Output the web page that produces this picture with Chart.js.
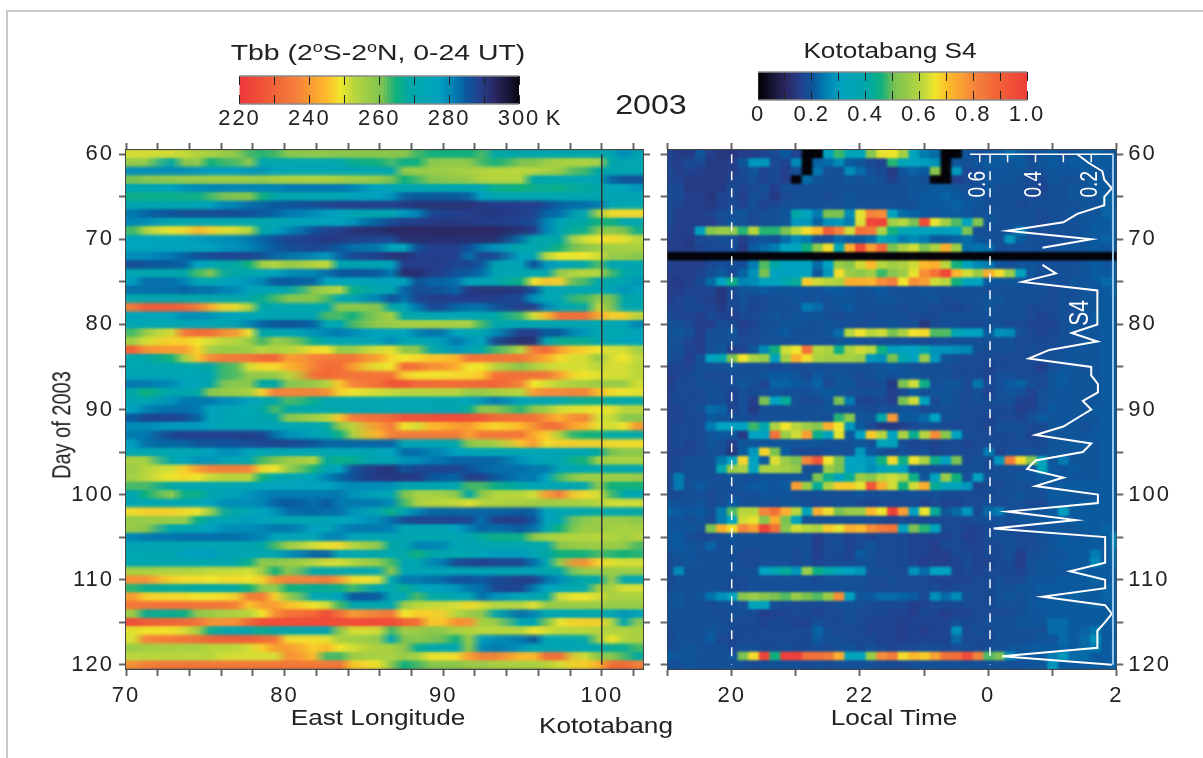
<!DOCTYPE html>
<html>
<head>
<meta charset="utf-8">
<script src="https://cdn.jsdelivr.net/npm/chart.js@4/dist/chart.umd.js"></script>
<style>
html, body { margin: 0; background: #fff; overflow: hidden; }
#page { position: relative; width: 1203px; height: 758px; }
#frame { position: absolute; left: 6px; top: 10px; right: 0; bottom: 0; border-left: 2px solid #c8c8c8; border-top: 2px solid #c8c8c8; }
canvas { position: absolute; }
.t { position: absolute; white-space: nowrap; color: #222; font: 22px "Liberation Sans", Arial, sans-serif; transform: translate(-50%, -50%) scaleX(1.19); }
.t span { font-size: 14px; vertical-align: 8px; }
</style>
</head>
<body>
<div id="page">
  <div id="frame"></div>
  <canvas id="barTbb" style="left:179px;top:30px"></canvas>
  <canvas id="barS4" style="left:692px;top:30px"></canvas>
  <canvas id="panelTbb" style="left:0;top:120px"></canvas>
  <canvas id="panelS4" style="left:655px;top:120px"></canvas>
  <div class="t" style="left:378px;top:52px;transform:translate(-50%,-50%) scaleX(1.29)">Tbb (2<span>o</span>S-2<span>o</span>N, 0-24 UT)</div>
  <div class="t" style="left:890px;top:51px">Kototabang S4</div>
  <div class="t" style="left:651px;top:105px;font-size:27px">2003</div>
  <div class="t" style="left:378px;top:718px">East Longitude</div>
  <div class="t" style="left:606px;top:726px">Kototabang</div>
  <div class="t" style="left:894px;top:718px">Local Time</div>
  <div class="t" style="left:62px;top:425px;font-size:20px;transform:translate(-50%,-50%) rotate(-90deg) scaleY(1.28)">Day of 2003</div>
</div>
<script>
// days on the y axis, one row each
const days = [];
for (let d = 60; d <= 120; d++) days.push(d);

// left panel columns, 1 degree wide
const longitudes = [];
for (let l = 70; l <= 102; l++) longitudes.push(l);

// right panel columns, every 10 minutes from 19 LT (hours past 24 mean next day)
const localHours = [];
for (let i = 0; i <= 42; i++) localHours.push(19 + i / 6);

// Tbb in K, one row per day 60..120, columns 70..102 E
const tbbRows = [
[250,250,250,251,253,254,256,262,263,262,258,257,257,258,258,258,258,258,262,264,264,264,262,268,270,270,270,270,270,270,272,279,272],
[256,257,268,258,257,264,262,257,270,271,271,271,271,270,266,264,262,265,264,257,257,258,262,264,260,259,256,254,253,254,268,271,271],
[279,279,279,279,278,277,277,278,278,275,273,272,272,272,272,272,270,257,256,256,255,254,253,252,252,252,254,256,262,268,271,271,271],
[260,258,257,256,256,255,255,255,256,254,253,253,253,254,255,256,260,264,262,258,257,256,253,252,253,268,271,271,272,273,283,285,285],
[272,273,275,278,279,280,280,280,280,280,281,281,281,281,280,276,273,271,271,271,271,271,270,265,264,265,266,265,267,268,273,274,278],
[265,265,265,265,265,262,259,258,264,268,270,271,271,272,274,276,278,283,284,284,284,283,276,271,271,271,271,271,271,271,272,272,272],
[271,271,271,271,272,275,280,282,283,284,285,286,287,288,288,288,288,289,290,290,290,290,289,288,288,288,286,283,282,281,272,271,271],
[281,283,285,286,286,286,286,285,284,283,281,279,277,275,272,271,271,277,280,287,288,288,289,289,288,287,283,282,272,255,247,247,247],
[280,279,272,271,271,271,271,271,271,271,273,274,275,275,278,283,286,288,288,289,289,289,288,288,287,286,280,273,268,264,264,272,271],
[262,252,248,247,244,246,249,252,268,274,280,285,287,288,290,291,292,292,292,292,292,292,292,292,290,288,280,272,266,259,258,260,266],
[275,275,275,276,277,278,279,281,283,285,287,288,289,289,288,287,287,291,291,291,291,291,291,291,282,270,270,268,250,248,247,249,252],
[276,276,276,275,275,276,278,280,282,284,286,287,286,284,282,281,274,275,285,288,288,285,281,278,270,270,268,264,258,256,255,254,254],
[279,279,281,283,285,286,287,287,285,283,282,280,278,283,286,288,290,290,288,288,288,282,287,286,276,272,252,248,248,250,256,256,258],
[286,285,284,283,276,272,268,264,255,252,256,252,251,270,272,272,275,288,288,288,287,287,284,272,274,285,278,276,270,262,272,272,272],
[271,271,270,268,262,259,268,271,272,276,279,280,282,284,285,284,281,291,291,288,285,284,282,272,272,272,271,256,252,252,262,268,271],
[277,282,282,280,272,272,276,278,280,284,284,283,276,274,274,274,274,276,285,283,282,275,272,271,265,248,245,246,262,270,270,271,278],
[282,282,282,283,282,282,280,275,272,272,268,258,254,252,265,271,272,283,286,285,283,289,290,290,289,285,274,272,272,272,272,278,274],
[271,270,270,270,270,270,270,268,266,262,258,258,262,271,272,280,285,282,287,288,288,288,288,288,286,278,272,271,262,258,260,268,271],
[234,228,228,230,235,242,247,252,268,271,271,271,271,258,258,258,268,274,281,287,283,282,282,285,288,288,280,272,268,252,260,271,271],
[274,274,275,279,279,278,275,272,272,272,272,272,262,262,264,258,255,268,271,272,272,272,272,268,262,250,244,232,232,241,246,246,252],
[272,272,272,272,272,272,272,280,283,284,285,283,271,271,262,257,256,254,254,254,254,254,262,271,271,271,271,271,271,271,271,273,280],
[262,256,250,234,231,232,238,248,270,271,272,278,280,281,279,276,275,276,280,282,275,272,272,279,288,288,284,284,278,271,271,271,274],
[255,250,246,246,248,250,252,256,262,256,258,266,272,272,272,274,279,272,272,274,281,278,276,287,291,290,272,266,266,271,272,275,275],
[229,238,240,240,246,255,256,256,252,254,252,247,248,256,256,250,249,257,258,270,278,272,268,262,252,235,231,240,246,248,250,250,255],
[271,270,264,254,245,237,234,233,230,229,240,236,234,233,233,240,247,248,247,245,243,233,233,233,233,238,242,247,250,256,250,248,252],
[271,271,271,271,271,268,262,250,247,247,243,236,231,232,240,249,248,231,232,238,242,248,248,252,258,254,251,250,250,252,250,250,252],
[273,273,273,273,273,272,262,257,257,256,252,232,230,232,233,233,233,246,248,248,247,247,245,232,232,232,233,240,248,249,250,250,252],
[281,281,279,275,274,268,258,258,268,268,258,257,253,245,236,232,226,226,230,231,231,231,230,229,236,248,250,252,254,256,256,256,250],
[268,264,270,271,268,258,256,254,246,236,236,236,238,246,248,250,251,252,252,252,252,256,256,254,252,240,237,237,236,244,247,248,249],
[271,271,278,281,281,281,279,275,271,268,262,266,271,271,271,271,271,271,271,271,271,276,278,281,275,272,272,271,266,266,268,271,268],
[276,280,282,282,281,275,272,272,268,262,268,271,270,268,272,272,272,272,272,272,272,266,258,258,263,258,255,250,249,248,249,252,252],
[284,287,287,286,283,274,272,272,271,268,258,255,252,245,235,232,230,226,226,225,224,225,226,231,232,232,238,243,236,250,251,258,258],
[279,279,277,277,277,275,272,272,272,272,272,272,268,258,252,240,235,248,250,244,240,240,245,247,244,238,232,233,243,249,250,248,238],
[281,281,287,288,288,288,288,288,287,282,278,272,271,265,254,244,236,234,234,234,234,240,234,233,233,242,246,254,264,264,268,268,268],
[277,282,283,283,285,285,285,286,287,287,287,285,283,283,283,283,283,272,272,272,268,258,256,254,245,240,247,246,246,246,247,247,247],
[272,272,271,271,272,276,279,275,272,272,272,272,272,272,272,272,276,282,282,280,276,274,272,272,272,272,272,272,272,268,260,258,258],
[254,255,270,275,278,278,272,271,262,260,256,252,267,265,266,272,272,278,279,281,283,283,283,283,278,274,272,272,264,255,254,254,254],
[256,252,250,246,240,236,235,236,247,248,256,264,272,275,285,289,290,285,287,287,287,285,283,282,282,281,281,272,271,271,271,271,271],
[255,252,248,247,248,251,252,252,264,271,272,274,280,283,285,289,289,289,289,284,283,288,288,284,281,281,276,262,255,255,255,255,256],
[262,262,268,271,272,272,272,274,275,275,275,275,276,278,279,279,278,271,271,271,271,262,262,265,268,272,272,272,272,258,264,264,264],
[272,264,257,265,265,270,274,278,280,281,281,281,281,281,278,274,272,260,254,254,258,268,258,252,252,250,240,235,247,250,262,271,272],
[272,272,272,272,273,276,279,279,280,283,284,282,284,281,281,281,279,262,254,252,251,249,252,253,254,255,256,255,254,252,250,250,250],
[247,246,246,247,248,255,268,272,275,278,282,283,282,282,278,272,265,272,280,283,283,283,283,283,284,283,276,272,272,268,270,271,268],
[257,256,256,256,265,271,272,277,274,272,272,272,273,275,276,279,282,286,287,287,287,287,282,288,288,285,276,271,258,256,256,256,258],
[256,258,270,271,272,276,279,279,280,281,281,276,273,279,281,281,280,272,272,272,276,280,283,282,284,282,272,264,256,256,255,254,255],
[280,281,281,282,282,282,282,281,280,275,273,272,280,280,275,272,272,271,271,271,271,271,267,265,265,258,254,253,253,252,253,255,252],
[272,272,272,272,272,272,272,271,268,262,255,250,248,247,252,256,268,271,280,280,272,272,271,271,271,271,270,258,256,256,256,257,262],
[271,271,271,276,276,277,272,271,271,271,279,283,283,272,271,271,271,268,264,270,271,271,275,277,277,272,268,264,264,262,263,264,263],
[270,270,270,270,270,270,270,265,257,258,256,252,250,250,252,256,262,272,272,280,286,287,288,287,287,282,272,256,238,246,249,250,250],
[254,254,253,253,252,251,251,250,256,264,258,270,271,271,271,271,258,272,272,272,272,272,272,272,272,272,270,268,256,256,256,256,256],
[238,238,246,247,247,248,247,248,246,238,236,236,234,240,247,248,270,281,281,282,285,285,284,286,288,288,282,279,268,270,256,272,272],
[263,266,267,267,268,268,268,264,258,257,264,266,266,265,262,270,271,266,272,276,278,281,282,287,287,281,276,272,270,256,254,250,250],
[240,246,247,247,248,248,247,235,235,246,256,272,272,276,284,284,273,271,262,268,272,272,282,278,272,272,268,250,248,250,254,254,254],
[233,233,232,232,233,233,233,245,240,240,245,248,250,262,270,271,271,256,252,251,250,247,250,252,252,249,256,256,256,256,256,256,256],
[256,266,266,265,258,256,254,252,248,238,232,230,224,232,240,236,234,248,246,246,252,256,258,272,282,280,272,272,272,272,272,278,275],
[224,228,230,231,232,238,238,230,224,224,224,224,224,224,224,224,224,229,232,246,238,238,254,256,272,272,260,248,246,246,252,272,256],
[249,248,248,250,255,266,272,270,266,268,270,271,272,258,250,250,262,255,256,258,254,253,252,252,252,248,250,252,252,253,253,253,254],
[250,236,234,232,232,229,228,228,230,233,247,247,249,254,255,256,272,260,258,260,264,256,277,279,281,284,274,272,270,256,248,253,254],
[256,255,254,254,254,252,252,250,246,240,240,246,244,248,250,254,254,258,266,270,272,258,279,281,278,272,272,272,272,271,266,266,262],
[252,252,252,252,252,252,250,250,250,250,238,244,262,262,256,254,254,256,254,248,247,240,236,236,244,244,232,232,250,258,258,262,268],
[238,235,234,233,233,234,234,234,234,233,234,234,234,233,245,248,258,264,262,258,258,256,256,254,254,254,252,250,246,243,232,231,236]
];

// Kototabang S4 x 100, one row per day 60..120, columns 19 LT .. 2 LT, 0 = no data
const s4Rows = [
[16,14,14,19,15,13,13,15,15,16,17,20,16,0,0,30,47,34,32,52,64,65,57,33,24,22,0,0,19,18,19,20,22,20,18,19,20,18,19,20,21,20,19],
[16,15,17,17,14,14,15,19,28,28,17,16,26,0,21,22,26,20,19,17,16,46,33,30,29,27,0,19,18,19,20,20,19,20,18,19,20,19,20,20,20,20,19],
[17,15,16,15,14,14,15,17,19,16,17,15,18,0,23,18,18,26,22,18,17,14,19,21,20,52,0,28,17,18,19,19,19,19,18,18,19,19,19,20,19,20,19],
[16,16,14,14,14,14,16,17,18,16,17,15,0,22,19,18,18,19,18,19,18,15,18,19,18,0,0,15,17,18,19,19,19,18,17,17,19,18,18,19,20,19,19],
[17,17,14,14,14,14,17,16,17,18,15,18,18,18,18,18,18,18,18,18,18,18,18,19,19,20,20,19,18,18,19,18,18,18,17,16,18,18,19,19,20,20,19],
[17,17,15,15,13,16,17,15,18,17,14,17,18,18,18,17,18,19,18,18,18,18,18,19,20,20,21,20,19,19,18,18,18,18,17,17,18,18,19,19,19,21,20],
[17,16,15,15,14,16,17,16,18,16,17,18,18,18,18,18,18,19,18,18,18,18,18,18,20,20,20,21,20,19,18,18,18,17,18,18,18,18,18,19,19,21,20],
[17,15,15,15,16,18,18,19,17,18,18,19,40,30,24,50,50,26,64,80,78,30,22,21,20,19,20,20,19,18,19,18,18,18,18,17,18,18,19,19,19,21,21],
[17,15,15,15,15,17,19,18,17,18,18,19,28,28,21,27,28,24,63,97,98,56,60,50,95,64,56,48,30,52,19,18,18,18,18,17,18,18,18,19,20,20,21],
[16,15,15,30,52,55,54,46,60,46,46,50,60,66,70,90,80,62,85,83,58,45,34,32,31,29,29,30,50,18,18,18,19,24,18,18,18,18,18,19,20,20,21],
[15,15,14,17,17,18,18,15,18,19,18,22,26,24,18,18,22,20,20,22,35,28,24,26,24,20,20,21,22,19,18,18,28,20,18,18,18,18,18,19,20,21,20],
[15,15,14,16,17,17,18,14,20,22,24,30,30,45,53,66,34,72,95,75,88,50,58,62,50,58,72,55,22,23,22,18,18,18,18,18,18,19,19,19,20,19,20],
[0,0,0,0,0,0,0,0,0,0,0,0,0,0,0,0,0,0,0,0,0,0,0,0,0,0,0,0,0,0,0,0,0,0,0,0,0,0,0,0,0,0,0],
[16,15,15,15,17,18,18,18,24,48,40,30,30,30,22,30,55,52,62,70,60,56,58,62,70,72,60,45,30,26,24,19,18,19,19,18,18,18,18,19,20,19,21],
[15,15,15,16,18,20,17,21,27,50,30,30,30,30,19,28,66,55,53,56,47,52,55,64,78,85,97,71,62,55,72,66,55,32,19,18,18,18,18,19,20,20,21],
[15,14,15,17,22,30,44,25,26,30,30,38,42,68,62,60,58,72,72,71,78,82,65,78,75,62,60,45,32,30,20,19,19,19,18,18,18,18,19,19,20,22,21],
[15,15,16,16,16,13,17,19,19,20,19,19,19,19,18,20,20,19,18,19,20,18,18,18,19,18,18,18,18,18,18,18,18,18,18,18,17,18,18,19,19,20,22],
[15,16,17,16,15,13,17,18,17,17,18,18,19,18,19,18,19,19,18,18,19,19,18,18,18,19,17,18,18,18,19,19,18,18,18,18,17,18,18,19,19,20,20],
[16,16,17,17,16,14,17,18,16,17,18,18,18,24,22,18,19,20,18,18,18,18,17,18,18,17,17,16,17,18,19,18,18,18,17,17,17,18,18,19,19,20,20],
[17,16,16,15,17,16,15,17,17,18,19,18,19,19,19,18,17,18,18,17,18,18,18,17,17,17,18,18,18,18,18,18,18,18,17,16,17,18,18,19,20,20,20],
[18,18,17,15,15,18,17,15,16,18,18,19,19,18,18,19,18,18,17,18,18,19,18,18,13,17,18,18,17,17,18,18,17,17,16,16,16,18,19,18,19,20,20],
[18,19,18,15,18,18,19,16,17,18,19,20,18,18,18,19,22,60,65,60,62,50,58,65,66,48,48,36,30,30,20,27,26,18,17,16,17,18,19,19,19,20,20],
[18,18,16,15,18,18,18,17,17,18,18,18,18,18,18,18,19,19,18,18,18,18,18,18,17,18,18,18,18,18,18,18,18,17,17,17,17,18,18,19,19,20,20],
[18,18,16,15,18,19,15,16,19,26,45,62,65,85,60,58,44,58,62,60,45,29,30,30,38,27,27,26,25,18,17,18,18,17,18,17,18,18,19,19,19,20,20],
[18,17,15,18,30,37,50,65,58,55,30,57,72,66,58,56,57,57,55,28,27,50,37,30,55,28,19,18,17,17,17,17,17,17,17,18,18,19,19,19,19,20,20],
[16,16,16,18,18,18,19,18,18,18,17,18,17,18,18,18,18,18,18,18,19,20,19,18,18,18,18,17,17,17,16,17,17,17,17,15,18,19,19,18,19,20,20],
[15,16,17,18,17,17,18,18,18,19,20,20,19,17,20,18,19,18,17,18,19,18,19,19,18,18,18,17,17,17,16,18,18,17,17,17,19,20,19,19,19,20,20],
[15,17,17,18,18,17,18,19,18,16,21,21,20,19,21,17,19,19,17,17,18,14,50,62,44,18,19,19,17,23,17,18,20,21,18,17,19,20,19,19,19,20,20],
[16,17,17,17,18,18,16,18,17,18,19,18,18,18,19,20,19,18,18,18,18,15,17,20,18,19,19,18,17,18,16,18,19,18,16,18,19,19,19,19,19,20,20],
[16,17,17,17,18,18,16,18,15,50,30,42,18,17,17,19,50,24,16,16,17,15,50,62,30,17,19,18,17,18,17,18,18,16,15,18,19,19,19,19,19,20,20],
[16,16,17,18,22,21,16,18,14,18,18,18,18,18,18,19,18,18,18,17,18,18,19,19,17,18,18,18,17,17,17,17,17,15,16,18,20,19,19,19,20,20,20],
[16,16,17,17,20,19,18,18,17,18,18,18,18,18,18,18,46,52,19,19,40,76,20,20,22,30,18,18,17,17,16,17,17,16,18,20,19,19,19,19,19,20,20],
[16,17,17,17,24,30,30,30,47,38,58,65,60,55,52,72,65,28,20,17,14,14,15,17,18,18,17,17,17,17,16,18,18,18,17,17,19,19,19,18,19,20,20],
[16,17,17,17,19,20,19,14,30,30,85,55,62,75,43,30,64,20,30,68,60,30,58,43,60,78,52,30,18,17,17,17,17,18,16,17,19,19,19,19,20,20,20],
[16,17,16,17,19,18,15,19,19,19,19,19,19,19,19,18,18,18,19,18,32,32,18,16,17,16,17,17,16,17,17,17,17,17,17,17,19,19,20,20,19,20,20],
[16,16,16,17,18,18,13,20,28,67,50,20,17,17,17,18,18,18,28,20,18,17,18,17,18,16,17,17,17,17,24,16,18,18,18,18,19,19,19,19,19,20,20],
[16,17,18,18,18,24,30,67,30,20,63,55,50,80,92,65,50,30,30,28,45,66,44,65,58,44,30,50,17,18,17,28,82,66,52,32,19,24,19,19,19,20,20],
[16,17,18,18,18,38,55,58,30,58,58,56,54,18,18,55,50,30,30,27,30,38,30,19,18,18,18,18,18,18,17,18,18,18,19,34,20,19,20,19,19,20,20],
[17,24,18,18,18,18,19,18,18,19,19,19,19,19,50,44,30,42,55,52,60,62,58,44,19,30,55,45,18,30,18,18,18,19,19,20,20,19,19,19,19,20,20],
[17,24,18,20,18,18,18,19,20,20,19,20,75,55,42,58,68,68,64,92,72,62,45,62,72,42,32,32,28,16,17,17,18,18,18,19,20,20,20,20,20,20,20],
[17,17,18,18,17,18,18,18,18,19,19,19,18,18,18,18,18,18,19,18,18,18,18,18,18,18,17,17,17,17,17,18,18,19,18,18,20,20,19,19,19,20,20],
[19,18,18,19,17,18,20,18,18,18,18,19,19,18,17,17,18,18,17,16,17,17,17,17,16,17,16,16,17,17,18,17,18,18,17,17,19,19,20,20,20,20,20],
[21,20,19,20,18,24,48,60,60,80,85,72,60,32,72,66,50,55,55,70,65,98,75,30,65,42,19,22,28,17,22,24,18,18,19,19,20,30,20,20,20,20,20],
[19,19,18,19,17,24,30,62,64,52,72,50,30,18,18,18,18,18,18,18,17,16,17,17,17,17,17,17,17,18,18,18,18,19,19,19,20,20,20,20,20,20,20],
[19,19,19,18,50,72,66,80,75,98,85,52,62,60,58,68,64,72,70,78,82,84,30,50,46,32,17,17,16,16,17,18,17,17,18,19,19,19,19,20,20,21,20],
[20,20,18,17,17,18,19,18,18,18,18,18,18,18,15,17,17,16,17,16,17,17,17,16,16,16,16,17,15,16,17,18,18,17,17,18,19,20,19,19,20,20,26],
[19,20,19,18,21,18,18,18,18,18,18,18,18,18,15,17,18,16,17,19,17,17,17,16,16,15,17,17,16,16,17,17,18,17,17,18,19,20,20,20,20,20,25],
[18,19,19,18,18,18,18,17,17,18,18,18,17,18,15,17,17,16,20,18,17,17,17,16,16,15,15,17,17,16,17,17,18,15,18,18,19,19,20,20,24,20,22],
[17,18,19,18,18,18,18,17,17,18,18,18,17,18,16,17,17,17,18,18,17,17,17,16,15,15,15,16,17,16,16,17,17,15,18,19,19,20,20,20,26,20,22],
[17,26,18,18,18,18,18,18,18,30,36,42,28,55,44,40,33,30,28,18,18,17,17,27,22,30,30,16,17,16,17,17,17,16,18,19,19,19,20,20,20,20,21],
[17,18,18,18,18,18,17,17,18,18,18,18,18,18,17,18,18,18,18,17,17,18,17,17,17,16,16,16,16,17,17,18,17,17,19,19,19,20,20,20,21,20,21],
[17,18,18,18,18,18,17,17,18,18,18,18,18,18,18,18,18,18,18,17,17,17,17,17,17,17,16,17,17,17,17,18,18,19,19,20,20,20,20,20,20,21,21],
[18,19,18,19,23,27,30,52,55,52,50,48,55,50,48,55,78,30,19,20,22,22,21,20,17,27,22,26,18,17,17,18,19,18,19,19,20,20,21,20,20,21,21],
[18,19,18,18,17,18,18,18,32,30,18,17,17,17,17,17,18,18,18,17,17,17,17,15,16,17,17,17,17,17,17,18,18,18,19,20,20,20,20,20,21,20,21],
[18,18,18,18,18,17,18,18,17,15,16,16,17,17,16,17,17,18,17,17,17,16,16,15,17,16,15,16,16,17,17,17,17,18,19,19,20,20,20,20,20,20,21],
[18,18,18,18,18,18,17,17,17,16,17,17,16,16,18,17,17,18,17,16,16,16,15,16,16,16,16,18,17,17,18,18,18,19,19,19,22,22,20,20,20,20,21],
[17,18,18,18,19,18,17,17,17,17,17,17,17,17,21,18,17,17,17,16,16,16,15,16,15,16,16,27,17,18,17,18,18,18,18,18,22,22,20,21,23,20,20],
[17,18,18,18,20,17,16,17,17,17,17,17,17,17,20,18,18,17,17,17,16,16,15,16,16,16,16,22,17,17,17,18,18,18,18,19,19,22,20,22,27,20,20],
[18,18,19,18,18,18,17,18,18,17,17,18,17,17,18,17,18,19,17,18,17,16,17,17,18,18,17,18,18,17,18,18,19,19,20,20,20,21,20,22,24,20,21],
[20,19,19,18,18,18,19,50,66,97,45,98,98,85,85,82,72,30,30,55,78,82,66,70,68,74,84,86,95,80,48,50,26,20,20,20,24,28,22,22,20,20,20],
[18,18,19,18,18,18,18,18,17,18,18,18,18,17,18,17,18,18,18,18,17,17,17,18,18,18,18,18,18,18,18,18,18,18,19,19,28,20,20,20,20,20,21]
];

// white S4 curve, one value per day 60..120, day 72 missing
const s4Line = [.25,.21,.16,.153,.126,.153,.153,.25,.30,.50,.20,.375,null,.375,.327,.448,.178,.178,.178,.178,.178,.27,.178,.35,.424,.2,.2,.176,.176,.23,.2,.25,.30,.40,.20,.23,.40,.43,.30,.40,.176,.176,.50,.255,.55,.15,.15,.15,.15,.276,.15,.15,.375,.15,.126,.15,.178,.178,.178,.52,.126];
const s4AxisTicks = [.6,.5,.4,.3,.2];
const s4AxisLabels = [.6,.4,.2];

// colour table shared by both colour bars (position 0..1 on the S4 bar)
const cmapPos = [0,.1,.15,.2,.25,.3,.4,.45,.5,.6,.65,.7,.8,.9,1];
const cmapColors = ['#05030a','#2b2a66','#243f8c','#0b5a9e','#0085b5','#00a3bf','#00a7a7','#10b07e','#7cc251','#b8d63d','#f1e52c','#fdb92a','#f5833a','#f15d36','#ee3a3a'];

function hexToRgb(h) {
    return [parseInt(h.substr(1,2),16), parseInt(h.substr(3,2),16), parseInt(h.substr(5,2),16)];
}
function cmap(v) {
    v = Math.max(0, Math.min(1, v));
    let i = 0;
    while (i < cmapPos.length - 2 && v > cmapPos[i+1]) i++;
    const f = (v - cmapPos[i]) / (cmapPos[i+1] - cmapPos[i]);
    const a = hexToRgb(cmapColors[i]), b = hexToRgb(cmapColors[i+1]);
    return `rgb(${a.map((c,k) => Math.round(c + (b[k]-c)*f)).join(',')})`;
}
const tbbColor = t => cmap((300 - t) / 80);
const s4Color = s => cmap(s / 100);

Chart.defaults.font.family = '"Liberation Sans", Arial, sans-serif';
Chart.defaults.font.size = 22;
Chart.defaults.color = '#222';
Chart.defaults.animation = false;
Chart.defaults.responsive = false;
Chart.defaults.plugins.legend.display = false;
Chart.defaults.plugins.tooltip.enabled = false;

// the reference type is wide, letter spacing gets the tick labels close to it
Chart.register({
    id: 'wideText',
    beforeDraw(chart) { chart.ctx.letterSpacing = '2px'; }
});

// the scanned cells are soft: once the last bar is drawn, smear the plot area a little
const soften = {
    id: 'soften',
    afterDatasetDraw(chart, args, opts) {
        if (args.index !== 0) return;
        const a = chart.chartArea, w = a.right - a.left, h = a.bottom - a.top;
        const tmp = document.createElement('canvas');
        tmp.width = Math.round(w / opts.shrink);
        tmp.height = Math.round(h);
        const t = tmp.getContext('2d');
        t.imageSmoothingQuality = 'high';
        t.drawImage(chart.canvas, a.left, a.top, w, h, 0, 0, tmp.width, tmp.height);
        const ctx = chart.ctx;
        ctx.save();
        ctx.beginPath();
        ctx.rect(a.left, a.top, w, h);
        ctx.clip();
        ctx.imageSmoothingEnabled = true;
        ctx.filter = `blur(${opts.blur}px)`;
        ctx.drawImage(tmp, a.left, a.top, w, h);
        ctx.restore();
    }
};

// fixes the plot rectangle whatever the labels measure
const fitW = w => scale => { scale.width = w; };
const fitH = h => scale => { scale.height = h; };

const AXIS_COLOR = '#444', TICK_COLOR = '#666';
const everyFive = c => (days[c.index] % 5 === 0 ? TICK_COLOR : 'transparent');
const dayLabel = (v, i) => (days[i] % 10 === 0 ? String(days[i]) : '');

function dayAxis(position, width, showLabels) {
    return {
        type: 'category', axis: 'y', position, labels: days, offset: true, afterFit: fitW(width),
        border: { color: AXIS_COLOR, width: 2 },
        grid: { offset: false, drawOnChartArea: false, tickColor: everyFive, tickWidth: 2, tickLength: 7 },
        ticks: { display: showLabels, autoSkip: false, maxRotation: 0, padding: 5, callback: dayLabel }
    };
}
function valueAxis(position, height, min, max, step, label, showLabels) {
    return {
        type: 'linear', axis: 'x', position, min, max, afterFit: fitH(height),
        border: { color: AXIS_COLOR, width: 2 },
        grid: { drawOnChartArea: false, color: TICK_COLOR, tickWidth: 2, tickLength: 7 },
        ticks: { display: showLabels, autoSkip: false, stepSize: step, includeBounds: false, maxRotation: 0, padding: 7, callback: label }
    };
}
function vline(value, color, width, dash, axisId) {
    return {
        type: 'line', xAxisID: axisId, yAxisID: 'y', order: -1, borderColor: color, borderWidth: width,
        borderDash: dash, pointRadius: 0,
        data: [{ x: value, y: days[0] }, { x: value, y: days[days.length-1] }]
    };
}

// left panel
const tbbCells = longitudes.map((lon, c) => ({
    data: days.map(() => [lon, lon + 1.04]),
    backgroundColor: tbbRows.map(r => tbbColor(r[c])),
    grouped: false, barPercentage: 1.04, categoryPercentage: 1, borderWidth: 0, xAxisID: 'x', yAxisID: 'y'
}));
const elTbb = document.getElementById('panelTbb');
elTbb.width = 655; elTbb.height = 638;
new Chart(elTbb, {
    type: 'bar',
    data: { labels: days, datasets: [...tbbCells, vline(100, '#333', 1.5, [], 'x')] },
    options: {
        indexAxis: 'y',
        layout: { padding: 0 },
        plugins: { soften: { shrink: 13, blur: 0.5 } },
        scales: {
            x: valueAxis('bottom', 89, 70, 102.6, 2, v => (v % 10 === 0 ? String(v) : ''), true),
            xTop: valueAxis('top', 30, 70, 102.6, 2, () => '', false),
            y: dayAxis('left', 126, true),
            yRight: dayAxis('right', 12, false)
        }
    },
    plugins: [soften]
});

// right panel
const s4Cells = localHours.map((h, c) => ({
    data: days.map(() => [h - 1/12, h + 1/12 + 0.007]),
    backgroundColor: s4Rows.map(r => s4Color(r[c])),
    grouped: false, barPercentage: 1.04, categoryPercentage: 1, borderWidth: 0, xAxisID: 'x', yAxisID: 'y'
}));
const s4Curve = {
    type: 'line', xAxisID: 'xS4', yAxisID: 'y', order: -1, borderColor: '#fff', borderWidth: 2, pointRadius: 0,
    spanGaps: false,
    data: days.map((d, i) => ({ x: s4Line[i], y: d }))
};
const s4TopLine = {
    type: 'line', xAxisID: 'xS4', yAxisID: 'y', order: -1, borderColor: '#fff', borderWidth: 1.5, pointRadius: 0,
    data: [{ x: .635, y: days[0] }, { x: .12, y: days[0] }]
};

// white S4 scale inside the right panel, rotated like the reference
const s4Axis = {
    id: 's4Axis',
    afterDatasetsDraw(chart) {
        const ctx = chart.ctx, sx = chart.scales.xS4, y0 = chart.scales.y.getPixelForValue(0);
        ctx.save();
        ctx.letterSpacing = '0px';
        ctx.strokeStyle = '#fff';
        ctx.fillStyle = '#fff';
        ctx.lineWidth = 1.5;
        s4AxisTicks.forEach(v => {
            ctx.beginPath();
            ctx.moveTo(sx.getPixelForValue(v), y0);
            ctx.lineTo(sx.getPixelForValue(v), y0 + 8);
            ctx.stroke();
        });
        ctx.textAlign = 'center';
        ctx.textBaseline = 'middle';
        const rotated = (txt, x, y, size) => {
            ctx.save();
            ctx.translate(x, y);
            ctx.rotate(-Math.PI / 2);
            ctx.scale(1, 1.28);
            ctx.font = `${size}px "Liberation Sans", Arial, sans-serif`;
            ctx.fillText(txt, 0, 0);
            ctx.restore();
        };
        s4AxisLabels.forEach(v => rotated(v.toFixed(1), sx.getPixelForValue(v) - 1, y0 + 30, 19));
        rotated('S4', sx.getPixelForValue(.27) + 9, chart.scales.y.getPixelForValue(19) - 3, 21);
        ctx.restore();
    }
};

const hourLabel = v => ({ 20: '20', 22: '22', 24: '0', 26: '2' }[v] || '');
const elS4 = document.getElementById('panelS4');
elS4.width = 548; elS4.height = 638;
new Chart(elS4, {
    type: 'bar',
    data: {
        labels: days,
        datasets: [...s4Cells, vline(20, '#fff', 1.5, [9, 8], 'x'), vline(24.03, '#fff', 1.5, [9, 8], 'x'),
            vline(.122, '#9cc8e8', 2, [], 'xS4'), s4Curve, s4TopLine]
    },
    options: {
        indexAxis: 'y',
        layout: { padding: 0 },
        plugins: { soften: { shrink: 1, blur: 0.8 } },
        scales: {
            x: valueAxis('bottom', 89, 19, 26, 1, hourLabel, true),
            xTop: valueAxis('top', 30, 19, 26, 1, () => '', false),
            xS4: { type: 'linear', axis: 'x', display: false, reverse: true, min: .11, max: 1.72 },
            y: dayAxis('left', 12.6, false),
            yRight: dayAxis('right', 86.7, true)
        }
    },
    plugins: [soften, s4Axis]
});

// colour bars
const tbbLevels = [];
for (let t = 220; t < 300; t++) tbbLevels.push(t);
const s4Levels = [];
for (let s = 0; s < 100; s++) s4Levels.push(s);

const barOutline = {
    id: 'barOutline',
    afterDraw(chart) {
        const a = chart.chartArea, ctx = chart.ctx;
        ctx.save();
        ctx.strokeStyle = '#8a8a8a';
        ctx.lineWidth = 1.5;
        ctx.beginPath();
        ctx.moveTo(a.left, a.top); ctx.lineTo(a.right, a.top);
        ctx.moveTo(a.left, a.bottom); ctx.lineTo(a.right, a.bottom);
        ctx.stroke();
        ctx.restore();
    }
};
function colourBar(id, w, left, right, top, bottom, min, max, step, levels, width, color, label, extra) {
    const el = document.getElementById(id);
    el.width = w; el.height = 110;
    new Chart(el, {
        type: 'bar',
        data: {
            labels: [''],
            datasets: levels.map(l => ({
                data: [[l, l + width * 1.2]], backgroundColor: color(l),
                grouped: false, barPercentage: 1, categoryPercentage: 1, borderWidth: 0
            }))
        },
        options: {
            indexAxis: 'y',
            layout: { padding: { left, right, top } },
            scales: {
                x: {
                    type: 'linear', min, max, afterFit: fitH(110 - bottom),
                    border: { display: false, dash: [9, 10] },
                    grid: { z: 1, color: '#222', lineWidth: 1, drawTicks: false },
                    ticks: { stepSize: step, autoSkip: false, maxRotation: 0, padding: 2, callback: label }
                },
                y: { display: false }
            }
        },
        plugins: [barOutline, extra || { id: 'none' }]
    });
}
const kelvinUnit = {
    id: 'kelvinUnit',
    afterDraw(chart) {
        const ctx = chart.ctx;
        ctx.save();
        ctx.fillStyle = '#222';
        ctx.textAlign = 'center';
        ctx.textBaseline = 'middle';
        ctx.font = '22px "Liberation Sans", Arial, sans-serif';
        ctx.fillText('K', chart.chartArea.right + 35, 89);
        ctx.restore();
    }
};
colourBar('barTbb', 400, 60.5, 60, 46, 74, 220, 300, 10, tbbLevels, 1, tbbColor,
    v => (v % 20 === 0 ? String(v) : ''), kelvinUnit);
colourBar('barS4', 400, 66, 65, 42, 70, 0, 100, 10, s4Levels, 1, s4Color,
    v => (v % 20 === 0 ? (v === 0 ? '0' : (v / 100).toFixed(1)) : ''));
</script>
</body>
</html>
